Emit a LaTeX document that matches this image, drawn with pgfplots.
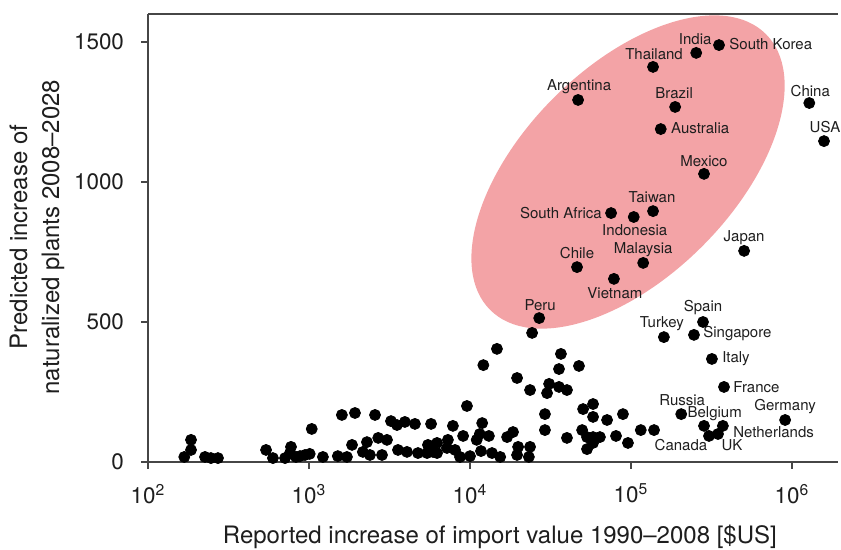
\documentclass[border=0pt]{standalone}
\usepackage{pgfplots}
\pgfplotsset{compat=1.18}
\usepackage{fontspec}
\setmainfont{TeX Gyre Heros}
\definecolor{ellpink}{RGB}{243,163,166}
\definecolor{axgray}{RGB}{70,70,70}
\definecolor{txt}{RGB}{30,30,30}
\tikzset{lab/.style={font=\fontsize{7.5}{9}\selectfont, inner sep=0pt, text=txt}}
\begin{document}
\begin{tikzpicture}
\useasboundingbox (-74pt,-44pt) rectangle (346.5pt,231pt);
\begin{axis}[
  scale only axis, width=345pt, height=224pt,
  at={(0pt,0pt)}, anchor=south west,
  xmode=log, xmin=100, xmax=1.93e6, ymin=0, ymax=1600,
  axis x line*=box, axis y line*=left,
  axis line style={axgray, line width=1pt},
  xtick={100,1000,10000,100000,1000000},
  xticklabels={10\textsuperscript{2},10\textsuperscript{3},10\textsuperscript{4},10\textsuperscript{5},10\textsuperscript{6}},
  xminorticks=false,
  ytick={0,500,1000,1500}, yticklabels={0,500,1000,1500},
  xtick pos=left, ytick pos=left,
  tick align=outside, major tick length=3.5pt,
  tick style={axgray, line width=1pt},
  ticklabel style={font=\fontsize{11.2}{13}\selectfont, text=txt},
  xticklabel style={yshift=-4pt},
  yticklabel style={xshift=-5pt},
  /pgf/number format/assume math mode=true,
  xlabel={Reported increase of import value 1990--2008 [\$US]},
  xlabel style={font=\fontsize{12}{14}\selectfont, text=txt, at={(axis description cs:0.51,-0.181)}, anchor=base},
  ylabel={Predicted increase of\\naturalized plants 2008--2028},
  ylabel style={font=\fontsize{12}{16}\selectfont, text=txt, align=center, at={(axis description cs:-0.161,0.502)}, anchor=center},
  clip=false,
]
\fill[ellpink] (rel axis cs:0.6957,0.6473) ellipse [x radius=97.5pt, y radius=52.5pt, rotate=45];

% labelled countries
\addplot[only marks, mark=*, mark size=2.75pt, black] coordinates {
(2.54e5,1461) (3.52e5,1489) (1.37e5,1411) (4.69e4,1293) (1.88e5,1268)
(1.53e5,1189) (1.28e6,1282) (1.58e6,1146) (2.84e5,1029) (1.37e5,896)
(7.52e4,889) (1.04e5,875) (5.04e5,754) (1.19e5,711) (4.62e4,696)
(7.83e4,654) (2.69e4,514) (2.80e5,500) (1.60e5,446) (2.46e5,454)
(3.18e5,368) (3.78e5,268) (2.05e5,171) (2.84e5,129) (3.72e5,129)
(3.05e5,93) (3.47e5,100) (9.06e5,150)
};
% other countries
\addplot[only marks, mark=*, mark size=2.75pt, black] coordinates {
(2.43e4,461) (1.47e4,404) (1.21e4,346) (1.96e4,300) (2.36e4,257)
(3.67e4,386) (3.57e4,332) (4.75e4,343) (3.10e4,279) (3.01e4,246)
(3.57e4,268) (4.00e4,257) (9.57e3,200) (2.92e4,171) (2.92e4,114)
(4.00e4,86) (5.04e4,189) (5.81e4,207) (5.81e4,161) (7.10e4,150)
(8.91e4,171) (4.97e4,114) (5.33e4,89) (5.81e4,89) (6.41e4,89)
(5.33e4,46) (5.81e4,68) (8.07e4,93) (9.57e4,68) (1.15e5,114)
(1.39e5,114) (1.19e4,139) (1.15e4,100) (1.31e4,93) (1.10e4,79)
(1.17e4,39) (1.37e4,32) (9.06e3,93) (1.70e4,89) (1.85e4,107)
(1.99e4,54) (1.96e4,25) (2.36e4,54) (2.32e4,18) (7.83e3,129)
(8.07e3,43) (7.29e3,79) (7.19e3,50) (6.24e3,68) (5.48e3,61)
(5.89e3,36) (4.75e3,32) (4.06e3,36) (3.57e3,43) (5.73e3,136)
(4.55e3,136) (3.94e3,143) (3.52e3,132) (3.23e3,146) (2.57e3,168)
(1.93e3,175) (1.60e3,168) (3.05e3,79) (2.69e3,86) (2.29e3,71)
(1.85e3,61) (2.16e3,36) (2.39e3,25) (2.84e3,25) (1.04e3,118)
(1.01e3,29) (1.22e3,18) (1.51e3,21) (1.72e3,18) (879,21)
(5.41e3,32) (6.24e3,32) (8.67e3,18) (1.00e4,21) (1.54e4,18)
(185,79) (185,43) (168,18) (226,18) (246,14) (272,14)
(541,43) (597,14) (773,54) (762,32) (710,14) (830,18) (944,25)
};

\node[lab] at (axis cs:2.54e5,1461) [xshift=-0.5pt, yshift=7pt] {India};
\node[lab, anchor=west] at (axis cs:3.52e5,1489) [xshift=5pt, yshift=0.5pt] {South Korea};
\node[lab] at (axis cs:1.37e5,1411) [xshift=0.5pt, yshift=6.5pt] {Thailand};
\node[lab] at (axis cs:4.69e4,1293) [xshift=0.5pt, yshift=6.5pt] {Argentina};
\node[lab] at (axis cs:1.88e5,1268) [xshift=-0.5pt, yshift=7pt] {Brazil};
\node[lab, anchor=west] at (axis cs:1.53e5,1189) [xshift=5pt, yshift=0.5pt] {Australia};
\node[lab] at (axis cs:1.28e6,1282) [xshift=0.5pt, yshift=6pt] {China};
\node[lab] at (axis cs:1.58e6,1146) [xshift=0.5pt, yshift=7pt] {USA};
\node[lab] at (axis cs:2.84e5,1029) [yshift=6.5pt] {Mexico};
\node[lab] at (axis cs:1.37e5,896) [xshift=-0.5pt, yshift=7pt] {Taiwan};
\node[lab, anchor=east] at (axis cs:7.52e4,889) [xshift=-4.5pt] {South Africa};
\node[lab] at (axis cs:1.04e5,875) [xshift=0.5pt, yshift=-6.5pt] {Indonesia};
\node[lab] at (axis cs:5.04e5,754) [yshift=6.5pt] {Japan};
\node[lab] at (axis cs:1.19e5,711) [yshift=6.5pt] {Malaysia};
\node[lab] at (axis cs:4.62e4,696) [yshift=7pt] {Chile};
\node[lab] at (axis cs:7.83e4,654) [xshift=0.5pt, yshift=-7pt] {Vietnam};
\node[lab] at (axis cs:2.69e4,514) [xshift=0.5pt, yshift=6.5pt] {Peru};
\node[lab] at (axis cs:2.80e5,500) [yshift=7pt] {Spain};
\node[lab] at (axis cs:1.60e5,446) [xshift=-1pt, yshift=6.5pt] {Turkey};
\node[lab, anchor=west] at (axis cs:2.46e5,454) [xshift=4.5pt, yshift=0.5pt] {Singapore};
\node[lab, anchor=west] at (axis cs:3.18e5,368) [xshift=5pt] {Italy};
\node[lab, anchor=west] at (axis cs:3.78e5,268) [xshift=4.5pt] {France};
\node[lab] at (axis cs:2.05e5,171) [xshift=0.5pt, yshift=7pt] {Russia};
\node[lab, anchor=west] at (axis cs:2.05e5,171) [xshift=3pt] {Belgium};
\node[lab] at (axis cs:9.06e5,150) [yshift=6.5pt] {Germany};
\node[lab, anchor=west] at (axis cs:3.72e5,129) [xshift=5pt, yshift=-3pt] {Netherlands};
\node[lab] at (axis cs:3.05e5,93) [xshift=-14pt, yshift=-4.5pt] {Canada};
\node[lab] at (axis cs:3.47e5,100) [xshift=7pt, yshift=-5.5pt] {UK};
\end{axis}
\end{tikzpicture}
\end{document}
